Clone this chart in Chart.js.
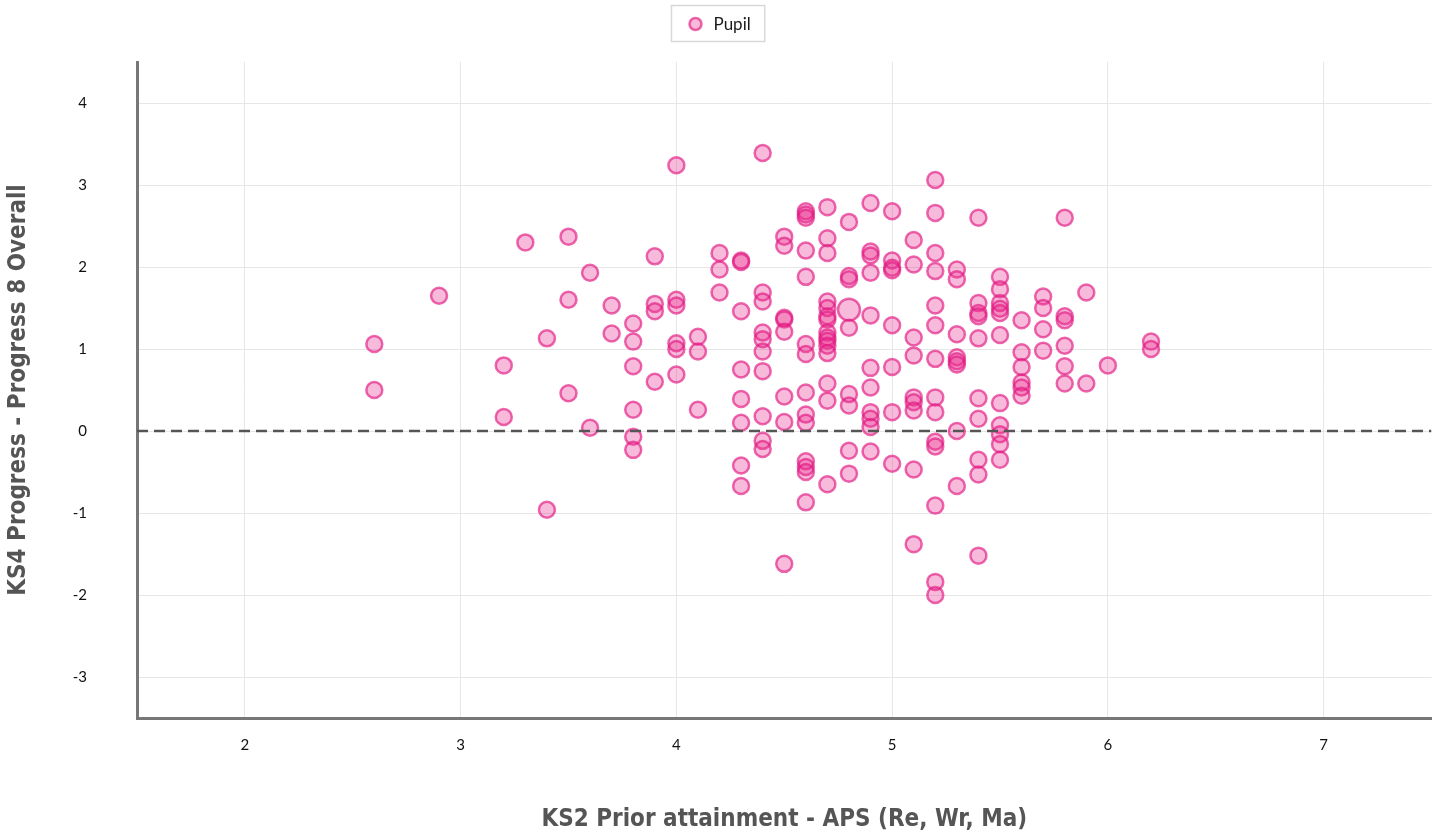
<!DOCTYPE html>
<html>
<head>
<meta charset="utf-8">
<script src="https://cdn.jsdelivr.net/npm/chart.js@4/dist/chart.umd.min.js"></script>
<style>
    html, body { margin: 0; padding: 0; background: #fff; }
    #wrap { width: 1445px; height: 840px; }
</style>
</head>
<body>
<div id="wrap"><canvas id="scatterChart" width="1445" height="840"></canvas></div>
<script>
// KS2 APS columns and the Progress 8 scores of the pupils in each column
const apsValues = [2.6, 2.9, 3.2, 3.3, 3.4, 3.5, 3.6, 3.7, 3.8, 3.9, 4.0, 4.1, 4.2, 4.3, 4.4, 4.5, 4.6, 4.7, 4.8, 4.9, 5.0, 5.1, 5.2, 5.3, 5.4, 5.5, 5.6, 5.7, 5.8, 5.9, 6.0, 6.2];
const progressByAps = [
    [1.06, 0.5],
    [1.65],
    [0.8, 0.17],
    [2.3],
    [1.13, -0.96],
    [2.37, 1.6, 0.46],
    [1.93, 0.04],
    [1.53, 1.19],
    [1.31, 1.09, 0.79, 0.26, -0.07, -0.23],
    [2.13, 1.55, 1.46, 0.6],
    [3.24, 1.6, 1.53, 1.07, 1.0, 0.69],
    [1.15, 0.97, 0.26],
    [2.17, 1.97, 1.69],
    [2.08, 2.06, 1.46, 0.75, 0.39, 0.1, -0.42, -0.67],
    [3.39, 1.69, 1.58, 1.2, 1.12, 0.97, 0.73, 0.18, -0.12, -0.22],
    [2.37, 2.26, 1.38, 1.36, 1.21, 0.42, 0.11, -1.62],
    [2.68, 2.64, 2.6, 2.2, 1.88, 1.06, 0.94, 0.47, 0.2, 0.1, -0.37, -0.44, -0.5, -0.87],
    [2.73, 2.35, 2.17, 1.58, 1.5, 1.4, 1.36, 1.2, 1.14, 1.1, 1.04, 0.95, 0.58, 0.37, -0.65],
    [2.55, 1.89, 1.85, 1.48, 1.26, 0.45, 0.31, -0.24, -0.52],
    [2.78, 2.19, 2.14, 1.93, 1.41, 0.77, 0.53, 0.23, 0.15, 0.05, -0.25],
    [2.68, 2.08, 1.99, 1.96, 1.29, 0.78, 0.23, -0.4],
    [2.33, 2.03, 1.14, 0.92, 0.41, 0.35, 0.25, -0.47, -1.38],
    [3.06, 2.66, 2.17, 1.95, 1.53, 1.29, 0.88, 0.41, 0.23, -0.13, -0.19, -0.91, -1.84, -2.0],
    [1.97, 1.85, 1.18, 0.9, 0.85, 0.81, 0.0, -0.67],
    [2.6, 1.56, 1.44, 1.4, 1.13, 0.4, 0.15, -0.35, -0.53, -1.52],
    [1.88, 1.73, 1.56, 1.49, 1.44, 1.17, 0.34, 0.07, -0.04, -0.16, -0.35],
    [1.35, 0.96, 0.78, 0.59, 0.53, 0.43],
    [1.64, 1.5, 1.24, 0.98],
    [2.6, 1.4, 1.35, 1.04, 0.79, 0.58],
    [1.69, 0.58],
    [0.8],
    [1.09, 1.0]
];
const highlighted = { x: 4.8, y: 1.48 };
const xRange = [1.5, 7.5];
const yRange = [-3.5, 4.5];
const xTickValues = [2, 3, 4, 5, 6, 7];
const yTickValues = [-3, -2, -1, 0, 1, 2, 3, 4];
const seriesLabel = 'Pupil';
const xTitle = 'KS2 Prior attainment - APS (Re, Wr, Ma)';
const yTitle = 'KS4 Progress - Progress 8 Overall';

const pointFill = 'rgba(232, 40, 140, 0.32)';
const pointBorder = 'rgba(226, 25, 130, 0.65)';

function buildPoints() {
    const points = [];
    apsValues.forEach((aps, i) => {
        progressByAps[i].forEach(p8 => points.push({ x: aps, y: p8 }));
    });
    return points;
}

// legend drawn as a boxed item at the top, like the original
const boxedLegend = {
    id: 'boxedLegend',
    afterDraw(chart) {
        const ctx = chart.ctx;
        ctx.save();
        ctx.font = '17px Lato, "Noto Sans", sans-serif';
        const textW = ctx.measureText(seriesLabel).width;
        const boxW = 42 + textW + 14;
        const boxX = 671.5;
        ctx.strokeStyle = '#d8d8d8';
        ctx.lineWidth = 1.5;
        ctx.strokeRect(boxX, 5.5, boxW, 36);
        ctx.beginPath();
        ctx.arc(boxX + 24, 24, 6, 0, Math.PI * 2);
        ctx.fillStyle = pointFill;
        ctx.fill();
        ctx.lineWidth = 2.5;
        ctx.strokeStyle = pointBorder;
        ctx.stroke();
        ctx.fillStyle = '#1a1a1a';
        ctx.textBaseline = 'middle';
        ctx.fillText(seriesLabel, boxX + 42, 25);
        ctx.restore();
    }
};

const tickFont = { family: 'Lato, "Noto Sans", sans-serif', size: 15 };
const titleFont = { family: '"Liberation Sans Narrow", "DejaVu Sans Condensed", sans-serif', size: 24, weight: 'bold' };

function createScatterChart() {
    const ctx = document.getElementById('scatterChart').getContext('2d');

    new Chart(ctx, {
        type: 'scatter',
        data: {
            datasets: [{
                type: 'line',
                label: 'zero',
                data: [{ x: xRange[0], y: 0 }, { x: xRange[1], y: 0 }],
                borderColor: '#555',
                borderWidth: 2.5,
                borderDash: [11, 6],
                pointRadius: 0,
                fill: false
            }, {
                label: seriesLabel,
                data: buildPoints(),
                backgroundColor: pointFill,
                borderColor: pointBorder,
                borderWidth: 2.5,
                pointRadius: c => (c.raw && c.raw.x === highlighted.x && c.raw.y === highlighted.y) ? 11 : 8
            }]
        },
        options: {
            responsive: false,
            animation: false,
            layout: { padding: { top: 62, right: 12, left: 0, bottom: 0 } },
            plugins: {
                legend: { display: false },
                tooltip: { enabled: false }
            },
            scales: {
                x: {
                    type: 'linear',
                    min: xRange[0],
                    max: xRange[1],
                    afterBuildTicks: scale => { scale.ticks = xTickValues.map(v => ({ value: v })); },
                    afterFit: scale => { scale.height = 122; },
                    ticks: { padding: 18, color: '#111', font: tickFont },
                    grid: { color: '#e6e6e6', lineWidth: 1, drawTicks: false },
                    border: { color: '#777', width: 3 },
                    title: {
                        display: true,
                        text: xTitle,
                        color: '#555',
                        padding: { top: 0, bottom: 6 },
                        font: titleFont
                    }
                },
                y: {
                    type: 'linear',
                    min: yRange[0],
                    max: yRange[1],
                    afterBuildTicks: scale => { scale.ticks = yTickValues.map(v => ({ value: v })); },
                    afterFit: scale => { scale.width = 137; },
                    ticks: { padding: 50, color: '#111', font: tickFont },
                    grid: { color: '#e6e6e6', lineWidth: 1, drawTicks: false },
                    border: { color: '#777', width: 3 },
                    title: {
                        display: true,
                        text: yTitle,
                        color: '#555',
                        padding: { top: 4, bottom: 0 },
                        font: titleFont
                    }
                }
            }
        },
        plugins: [boxedLegend]
    });
}

document.addEventListener('DOMContentLoaded', createScatterChart);
</script>
</body>
</html>
